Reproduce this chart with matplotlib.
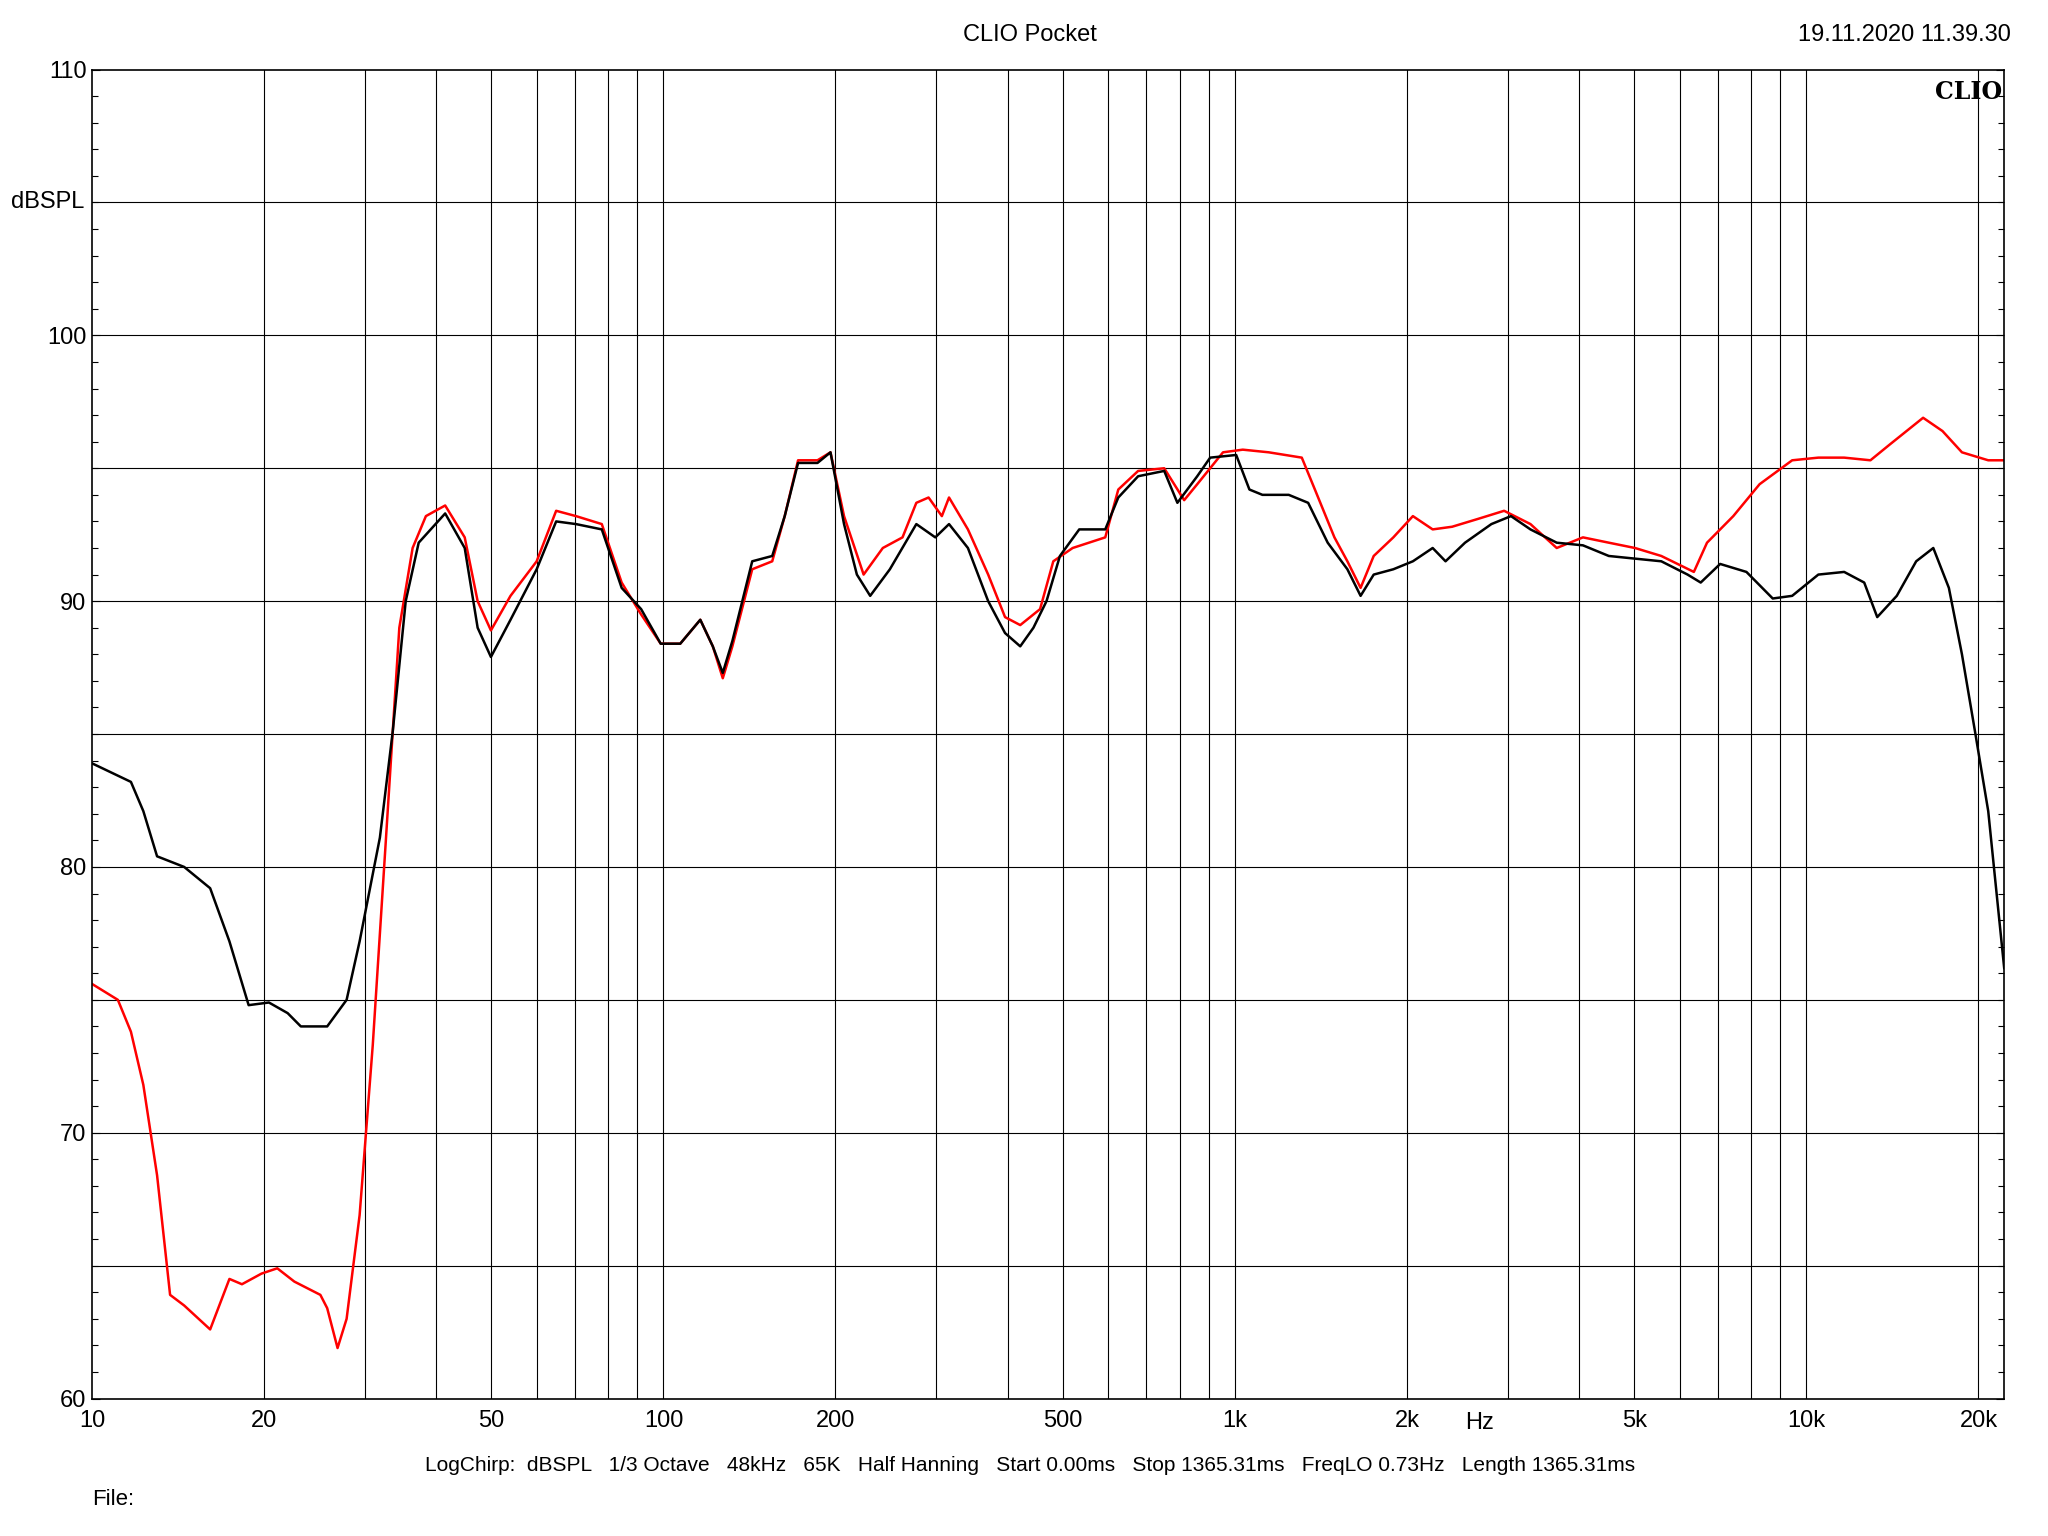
import matplotlib
matplotlib.use("Agg")
import matplotlib.pyplot as plt
from matplotlib.ticker import FixedLocator, NullFormatter, MultipleLocator
from matplotlib.transforms import blended_transform_factory

plt.rcParams['font.family'] = ['Liberation Sans', 'DejaVu Sans']

black_f = [10,11.7,12.3,13.0,14.5,16.1,17.4,18.8,20.4,22.0,23.2,25.8,27.9,29.4,31.9,33.6,35.4,37.3,41.5,44.9,47.3,49.9,54,60,64.9,70.3,78,84.5,91.4,98.9,107,116,122,127,132,143,155,163,172,186,196,207,218,230,249,277,299,316,341,370,396,421,444,468,494,534,593,625,677,752,793,859,905,1005,1060,1117,1242,1343,1453,1573,1659,1749,1893,2048,2218,2336,2527,2810,3041,3289,3656,4064,4510,5012,5572,6194,6531,7063,7852,8730,9441,10490,11640,12620,13300,14390,15560,16670,17750,18710,19720,20800,22180]
black_db = [83.9,83.2,82.1,80.4,80.0,79.2,77.2,74.8,74.9,74.5,74.0,74.0,75.0,77.2,81.1,85.1,90.0,92.2,93.3,92.0,89.0,87.9,89.3,91.2,93.0,92.9,92.7,90.5,89.7,88.4,88.4,89.3,88.3,87.3,88.5,91.5,91.7,93.2,95.2,95.2,95.6,92.9,91.0,90.2,91.2,92.9,92.4,92.9,92.0,90.0,88.8,88.3,89.0,90.0,91.7,92.7,92.7,93.9,94.7,94.9,93.7,94.7,95.4,95.5,94.2,94.0,94.0,93.7,92.2,91.2,90.2,91.0,91.2,91.5,92.0,91.5,92.2,92.9,93.2,92.7,92.2,92.1,91.7,91.6,91.5,91.0,90.7,91.4,91.1,90.1,90.2,91.0,91.1,90.7,89.4,90.2,91.5,92.0,90.5,88.0,85.1,82.1,76.2]

red_f = [10,11.1,11.7,12.3,13.0,13.7,14.5,16.1,17.4,18.3,19.8,21.1,22.6,25.1,25.8,26.9,27.9,29.4,31.0,32.7,34.5,36.4,38.4,41.5,44.9,47.3,49.9,54,60,64.9,70.3,78,84.5,91.4,98.9,107,116,122,127,132,143,155,163,172,186,196,207,224,242,262,277,291,307,316,341,370,396,421,456,481,520,593,625,677,752,815,859,953,1032,1146,1309,1380,1493,1573,1659,1749,1893,2048,2218,2399,2667,2958,3289,3656,4064,4510,5012,5572,6353,6699,7447,8279,9441,10490,11640,12940,14000,16000,17300,18710,20800,22180]
red_db = [75.6,75.0,73.8,71.8,68.4,63.9,63.5,62.6,64.5,64.3,64.7,64.9,64.4,63.9,63.4,61.9,63.0,66.9,73.3,81.1,89.0,92.0,93.2,93.6,92.4,90.0,88.9,90.2,91.5,93.4,93.2,92.9,90.7,89.5,88.4,88.4,89.3,88.3,87.1,88.3,91.2,91.5,93.2,95.3,95.3,95.6,93.2,91.0,92.0,92.4,93.7,93.9,93.2,93.9,92.7,91.0,89.4,89.1,89.7,91.5,92.0,92.4,94.2,94.9,95.0,93.8,94.4,95.6,95.7,95.6,95.4,94.2,92.4,91.5,90.5,91.7,92.4,93.2,92.7,92.8,93.1,93.4,92.9,92.0,92.4,92.2,92.0,91.7,91.1,92.2,93.2,94.4,95.3,95.4,95.4,95.3,95.9,96.9,96.4,95.6,95.3,95.3]

x_ticks = [10,20,50,100,200,500,1000,2000,5000,10000,20000]
x_labels = ["10","20","50","100","200","500","1k","2k","5k","10k","20k"]
y_ticks = [60,70,80,90,100,110]

fig = plt.figure(figsize=(20.48,15.36), dpi=100)
ax = fig.add_axes([0.0449,0.0895,0.9337,0.8652])
ax.set_xscale("log")
ax.set_xlim(10,22180)
ax.set_ylim(60,110)
grid_x = [m*10**e for e in range(1,5) for m in range(1,10)]
grid_x = [g for g in grid_x if 10 < g < 22180]
for g in grid_x:
    ax.axvline(g, color="black", lw=0.8, zorder=1)
for y in range(65,110,5):
    ax.axhline(y, color="black", lw=0.8, zorder=1)
ax.plot(black_f, black_db, color="black", lw=1.8, zorder=3)
ax.plot(red_f, red_db, color="#ff0000", lw=1.8, zorder=2)
ax.xaxis.set_major_locator(FixedLocator(x_ticks))
ax.set_xticklabels(x_labels)
ax.xaxis.set_minor_formatter(NullFormatter())
ax.xaxis.set_minor_locator(FixedLocator([]))
ax.set_yticks(y_ticks)
ax.yaxis.set_minor_locator(MultipleLocator(1))
ax.tick_params(axis="y", which="both", right=True, direction="in", labelsize=17, length=6, width=0.8, pad=4)
ax.tick_params(axis="y", which="minor", length=4)
ax.tick_params(axis="x", length=0, labelsize=17, pad=8)
for s in ax.spines.values():
    s.set_linewidth(1.2)
ax.text(-0.004, 0.9, "dBSPL", transform=ax.transAxes, ha="right", va="center", fontsize=17)
tr = blended_transform_factory(ax.transData, ax.transAxes)
ax.text(2680, -0.0105, "Hz", ha="center", va="top", fontsize=17, transform=tr)
ax.text(0.999, 0.992, "CLIO", transform=ax.transAxes, ha="right", va="top", fontsize=17, fontweight="bold", family="DejaVu Serif")
fig.text(0.503, 0.977, "CLIO Pocket", ha="center", va="center", fontsize=17)
fig.text(0.982, 0.977, "19.11.2020 11.39.30", ha="right", va="center", fontsize=17)
fig.text(0.503, 0.046, "LogChirp:  dBSPL   1/3 Octave   48kHz   65K   Half Hanning   Start 0.00ms   Stop 1365.31ms   FreqLO 0.73Hz   Length 1365.31ms", ha="center", va="center", fontsize=15)
fig.text(0.0449, 0.024, "File:", ha="left", va="center", fontsize=16)
fig.savefig("out.png", dpi=100, facecolor="white")
